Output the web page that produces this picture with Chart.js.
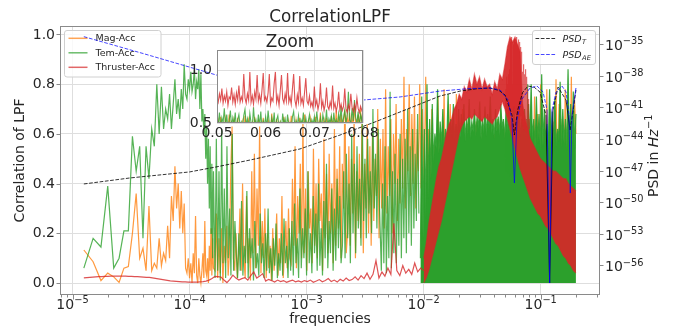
<!DOCTYPE html>
<html>
<head>
<meta charset="utf-8">
<script src="https://cdn.jsdelivr.net/npm/chart.js@4/dist/chart.umd.min.js"></script>
<style>
  html, body { margin: 0; padding: 0; background: #fff; }
  #wrap { position: relative; width: 681px; height: 329px; overflow: hidden; }
  #main { position: absolute; left: 0; top: 0; }
  #zoom { position: absolute; left: 190px; top: 30px; }
</style>
</head>
<body>
<div id="wrap">
  <canvas id="main" width="681" height="329"></canvas>
  <canvas id="zoom" width="200" height="112"></canvas>
</div>
<script>
// ---------------------------------------------------------------------------
// Data
// ---------------------------------------------------------------------------

// periodogram grid: bin k sits at k * binWidth (Hz), first plotted bin is k = 5
const binWidth = 2.5e-6;
const firstBin = 5;

// correlation, bins 5..64 (1.25e-5 .. 1.6e-4 Hz)
const magLow = [
  0.133,0.086,0.01,0.04,0.025,0.003,0.06,0.066,0.20,0.36,
  0.10,0.14,0.05,0.31,0.05,0.08,0.06,0.18,0.07,0.12,
  0.09,0.23,0.10,0.35,0.25,0.47,0.30,0.40,0.22,0.37,
  0.20,0.32,0.06,0.04,0.10,0.02,0.08,0.00,0.12,0.04,
  0.27,0.03,0.00,0.10,0.03,0.00,0.05,0.12,0.02,0.25,
  0.05,0.03,0.10,0.00,0.15,0.05,0.22,0.03,0.18,0.06
];
const temLow = [
  0.06,0.18,0.145,0.39,0.06,0.10,0.21,0.21,0.59,0.45,
  0.55,0.18,0.55,0.42,0.62,0.55,0.80,0.60,0.79,0.62,
  0.70,0.66,0.76,0.62,0.72,0.82,0.68,0.74,0.66,0.78,
  0.70,0.88,0.76,0.74,0.82,0.78,0.85,0.77,0.80,0.86,
  0.74,0.81,0.78,0.86,0.70,0.84,0.65,0.70,0.60,0.68,
  0.50,0.63,0.40,0.58,0.30,0.55,0.20,0.48,0.10,0.45
];

// Mag-Acc, 1.65e-4 .. 1.0e-2 Hz (log-spaced readings)
const magMidSpan = [1.65e-4, 1.0e-2];
const magMid = [
  0.05,0.28,0.02,0.18,0.04,0.22,0.00,0.15,0.08,0.23,0.03,0.12,0.45,0.63,0.10,0.05,0.20,
  0.02,0.12,0.30,0.05,0.40,0.10,0.02,0.35,0.08,0.18,0.01,0.45,0.12,0.52,0.06,0.38,0.15,0.63,0.04,0.25,
  0.10,0.30,0.02,0.20,0.06,0.15,0.01,0.22,0.05,0.12,0.28,0.03,0.18,0.08,0.35,0.02,0.14,0.25,0.06,0.30,0.10,
  0.08,0.42,0.15,0.55,0.06,0.35,0.20,0.48,0.10,0.65,0.12,0.38,0.05,0.45,0.22,0.30,0.08,0.54,0.15,0.40,
  0.10,0.50,0.25,0.36,0.05,0.58,0.18,0.44,0.12,0.52,0.20,0.40,0.08,0.62,0.15,0.46,0.22,0.55,0.10,0.48,
  0.30,0.78,0.12,
  0.20,0.55,0.15,0.50,0.28,0.66,0.10,0.45,0.25,0.52,0.18,0.67,0.12,0.48,0.30,0.64,0.20,0.55,0.15,0.60,
  0.25,0.50,0.35,0.70,0.18,0.58,0.30,0.62,0.22,0.78,0.28,0.55,0.35,0.66,0.20,0.60,0.40,0.72,0.25,0.58,
  0.32,0.66,0.38,0.83,0.30,0.62,0.45,0.80,0.35,0.68,0.40,0.75,0.30,0.62,0.45,0.80,0.38,0.70,0.50
];
// Mag-Acc, 1.0e-2 .. 0.2 Hz
const magHighSpan = [1.01e-2, 0.2];
const magHigh = [
  0.40,0.83,0.35,0.62,0.30,0.70,0.38,0.55,0.32,0.75,0.40,0.60,0.35,0.78,0.30,0.58,0.42,0.72,0.36,0.65,
  0.30,0.76,0.40,0.60,0.35,0.70,0.38,0.55,0.32,0.68,0.40,
  0.35,0.60,0.30,0.65,0.38,0.55,0.32,0.62,0.36,0.58,0.30,0.64,0.40,0.55,0.34,0.60,0.38,0.66,0.30,0.58,
  0.35,0.62,0.40,0.56,0.32,0.70,0.36,0.60,0.30,0.66,0.38,0.58,0.34,0.72,0.30,0.60,0.36,0.68,0.40,0.62,
  0.35,0.75,0.30,0.68,0.40,0.80,0.34,0.62,0.38,0.78,0.30,0.70,0.36,0.65,0.40,0.82,0.32,0.72,0.38,0.66,
  0.30,0.78,0.36,0.70,0.40,0.83,0.34,0.75,0.60
];

// Tem-Acc, 1.65e-4 .. 4.2e-3 Hz
const temMidSpan = [1.65e-4, 4.2e-3];
const temMid = [
  0.02,0.58,0.05,0.45,0.01,0.62,0.08,0.38,0.02,0.55,0.10,0.30,0.03,0.60,0.05,0.25,0.12,
  0.02,0.20,0.05,0.33,0.03,0.15,0.08,0.37,0.02,0.22,0.10,0.18,0.01,0.25,0.06,0.12,0.03,0.28,0.08,0.16,
  0.02,0.20,0.05,0.30,0.04,0.14,0.01,0.18,0.07,0.24,0.02,0.12,0.05,0.20,0.03,0.26,0.08,0.15,0.02,0.22,
  0.05,0.25,0.03,0.32,0.08,0.18,0.02,0.38,0.06,0.22,0.10,0.30,0.03,0.45,0.08,0.20,0.04,0.35,0.12,0.28,
  0.05,0.40,0.07,0.22,0.03,0.33,0.10,0.48,0.06,0.25,0.12,0.38,0.05,0.30,0.09,0.42,0.14,0.35,0.08,
  0.15,0.45,0.10,0.52,0.18,0.40,0.08,0.60,0.20,0.48,0.12,0.55,0.22,0.42,0.15,0.65,0.25,0.50,0.18,0.58,
  0.28,0.45,0.20,0.70,0.30,0.52,0.22,0.62,0.30
];
// Tem-Acc, 4.35e-3 .. 9.1e-3 Hz
const temBridgeSpan = [4.35e-3, 9.1e-3];
const temBridge = [
  0.05,0.40,0.08,0.55,0.04,0.35,0.10,0.77,0.06,0.45,0.12,0.52,0.08,0.42,0.15,0.60,
  0.10,0.50,0.18,0.58,0.12,0.70,0.20,0.55,0.15,0.62,0.22,0.52,0.25,0.68,0.28
];
// Tem-Acc, 9.38e-3 .. 0.2 Hz (dense band, filled down to zero)
const temHighSpan = [9.38e-3, 0.2];
const temHigh = [
  0.10,0.75,0.18,0.62,0.26,0.80,0.34,0.66,0.42,0.72,0.48,0.60,0.54,0.78,0.52,0.65,0.55,0.70,0.53,0.62,
  0.56,0.76,0.55,0.66,0.58,0.72,0.56,0.64,0.58,0.70,
  0.58,0.68,0.60,0.72,0.57,0.66,0.60,0.74,0.58,0.65,0.61,0.70,0.59,0.67,0.62,0.73,0.58,0.66,0.60,0.71,
  0.59,0.68,0.62,0.75,0.60,0.66,0.58,0.70,0.61,0.67,0.59,0.72,0.62,0.66,0.58,0.70,0.60,0.74,0.59,0.65,
  0.61,0.71,0.58,0.68,0.60,0.73,0.57,0.66,0.59,0.70,0.58,
  0.56,0.72,0.55,0.80,0.57,0.66,0.54,0.75,0.56,0.68,0.53,0.84,0.55,0.70,0.57,0.64,0.54,0.78,0.56,0.69,
  0.53,0.74,0.55,0.62,0.57,0.81,0.54,0.70,0.56,0.66,0.53,0.86,0.55,0.72,0.56,0.77,0.54,0.68
];

// Thruster-Acc, 1.25e-5 .. 1.0e-2 Hz
const thrLowSpan = [1.25e-5, 1.0e-2];
const thrLow = [
  0.021,0.022,0.023,0.024,0.025,0.026,0.026,0.027,0.027,0.028,0.028,0.028,0.028,0.028,0.028,0.027,
  0.027,0.026,0.026,0.025,0.024,0.023,0.023,
  0.021,0.019,0.017,0.015,0.013,0.011,0.009,0.008,0.007,0.006,0.005,0.005,0.004,0.004,0.004,0.004,
  0.005,0.006,0.008,0.012,
  0.018,0.027,0.026,0.024,0.012,0.002,0.015,0.032,0.020,0.012,
  0.018,0.022,0.012,0.030,0.045,0.020,0.028,0.038,0.008,0.015,0.010,0.004,0.012,0.006,0.010,0.003,
  0.008,0.012,0.005,0.009,
  0.004,0.010,0.006,0.012,0.003,0.008,0.014,0.005,0.010,0.018,0.006,0.012,0.004,0.015,0.008,0.020,0.010,
  0.014,0.025,0.012,0.030,0.018,0.040,0.015,0.035,0.090,0.020,0.045,0.028,0.060,0.035,0.240,0.050,
  0.030,0.070,0.040,0.055,0.035,0.080,0.045,0.060,0.050
];
// Thruster-Acc, 1.0e-2 .. 0.2 Hz: upper and lower edge of the dense band
const thrBandSpan = [1.0e-2, 0.2];
const thrHi = [
  0.10,0.16,0.24,0.30,0.36,0.42,0.47,0.50,0.55,0.60,
  0.64,0.66,0.70,0.72,0.76,0.74,0.79,0.77,0.82,0.78,
  0.84,0.80,0.83,0.78,0.82,0.79,0.80,0.76,0.81,0.78,
  0.84,0.82,0.88,0.95,0.99,0.97,0.99,0.96,0.93,0.72,
  0.66,0.62,0.58,0.56,0.54,0.52,0.50,0.49,0.48,0.47,
  0.46,0.45,0.45,0.44,0.43,0.42,0.42,0.40,0.39,0.38,
  0.37
];
const thrLo = [
  0.00,0.02,0.05,0.09,0.13,0.17,0.21,0.25,0.30,0.35,
  0.40,0.45,0.50,0.55,0.60,0.63,0.65,0.66,0.67,0.66,
  0.68,0.67,0.66,0.65,0.67,0.66,0.65,0.64,0.66,0.67,
  0.70,0.73,0.70,0.66,0.62,0.58,0.54,0.50,0.46,0.43,
  0.40,0.37,0.34,0.32,0.30,0.28,0.27,0.25,0.23,0.22,
  0.20,0.18,0.16,0.15,0.13,0.11,0.10,0.08,0.07,0.05,
  0.04
];

// 0.05 .. 0.08 Hz, evenly spaced readings (shown enlarged in the inset)
const zoomSpan = [0.05, 0.08];
const zoomMag = [
  0.45,0.52,0.40,0.56,0.43,0.49,0.38,0.54,0.46,0.41,0.58,0.44,0.50,0.39,0.53,0.47,0.42,0.55,0.40,0.48,
  0.44,0.51,0.37,0.57,0.45,0.41,0.53,0.46,0.39,0.50,0.43,0.56,0.40,0.47,0.52,0.38,0.49,0.44,0.55,0.41,
  0.46,0.39,0.53,0.48,0.42,0.59,0.44,0.50,0.37,0.54,0.45,0.40,0.51,0.47,0.43,0.56,0.39,0.49,0.45,0.52,
  0.41,0.57,0.44,0.48,0.38,0.53,0.46,0.42,0.55,0.40,0.50,0.44,0.58,0.41,0.47,0.52,0.39,0.54,0.45,0.49,
  0.43,0.56,0.40,0.51,0.46,0.60,0.42,0.48,0.53,0.39,0.55,0.44,0.50,0.41,0.57,0.46,0.52,0.43,0.62,0.47,
  0.54,0.40,0.58,0.45,0.51,0.63,0.44,0.56,0.48,0.60,0.42,0.55,0.47,0.65,0.50,0.44,0.58,0.46,0.61,0.52,
  0.55
];
const zoomTem = [
  0.52,0.48,0.60,0.45,0.55,0.50,0.64,0.47,0.58,0.44,0.52,0.62,0.46,0.55,0.49,0.60,0.43,0.53,0.58,0.47,
  0.51,0.45,0.57,0.63,0.48,0.54,0.44,0.59,0.50,0.46,0.65,0.49,0.53,0.45,0.58,0.47,0.61,0.44,0.52,0.48,
  0.56,0.46,0.62,0.50,0.45,0.55,0.48,0.60,0.43,0.53,0.57,0.46,0.51,0.44,0.59,0.49,0.54,0.45,0.58,0.47,
  0.50,0.44,0.56,0.61,0.46,0.52,0.48,0.57,0.45,0.53,0.49,0.60,0.44,0.55,0.47,0.51,0.58,0.46,0.53,0.49,
  0.56,0.45,0.61,0.50,0.47,0.55,0.44,0.58,0.52,0.48,0.63,0.46,0.54,0.50,0.57,0.45,0.60,0.49,0.53,0.47,
  0.59,0.51,0.66,0.48,0.55,0.62,0.50,0.57,0.80,0.53,0.49,0.64,0.52,0.72,0.55,0.50,0.61,0.47,0.58,0.52,
  0.63
];
const zoomThr = [
  0.74,0.70,0.78,0.72,0.83,0.69,0.76,0.71,0.80,0.67,0.75,0.73,0.84,0.70,0.77,0.68,0.79,0.72,0.86,0.70,0.75,
  0.71,0.97,0.74,0.69,0.78,0.72,0.99,0.70,0.76,0.68,0.80,0.73,0.96,0.71,0.77,0.69,0.82,0.98,0.72,0.75,
  0.70,0.79,0.97,0.68,0.74,0.71,0.88,0.99,0.70,0.76,0.67,0.81,0.96,0.73,0.69,0.78,0.71,0.98,0.70,0.75,
  0.68,0.83,0.97,0.72,0.66,0.77,0.70,0.95,0.69,0.74,0.67,0.80,0.93,0.71,0.68,0.76,
  0.66,0.70,0.64,0.85,0.67,0.72,0.63,0.69,0.88,0.65,0.71,0.62,0.68,0.84,0.66,0.63,0.70,0.65,0.86,0.64,
  0.69,0.61,0.67,0.80,0.63,0.68,0.62,0.66,0.83,0.64,0.60,0.67,0.63,0.78,0.65,0.61,0.68,0.62,0.74,0.64,
  0.60,0.66,0.62,0.65
];

// noise PSDs, stored as log10(PSD / Hz^-1)
const psdTFreq = [1.25e-5,3.1e-5,1.0e-4,1.68e-4,3.29e-4,8.78e-4,1.93e-3,3.84e-3,7.64e-3,1.38e-2,2.05e-2,
  2.8e-2,3.69e-2,4.4e-2,4.96e-2,5.68e-2,5.96e-2,6.36e-2,7.0e-2,7.79e-2,8.8e-2,9.86e-2,0.1109,0.1192,0.1274,
  0.1406,0.1646,0.178,0.1896,0.2];
const psdTExp = [-48.27,-47.70,-47.13,-46.66,-46.00,-44.95,-43.63,-42.39,-41.07,-39.93,-39.46,
  -39.25,-39.17,-39.40,-39.84,-41.73,-43.63,-41.26,-39.60,-38.98,-39.10,-39.55,-41.73,-57.66,-41.26,
  -39.08,-40.31,-43.15,-41.26,-39.36];
const psdAEFreq = [1.25e-5,4.16e-5,1.3e-4,3.29e-4,8.78e-4,3.03e-3,6.28e-3,1.38e-2,2.49e-2,3.69e-2,4.49e-2,
  5.26e-2,5.68e-2,5.96e-2,6.27e-2,6.82e-2,8.11e-2,9.3e-2,0.1047,0.1133,0.1192,0.1249,0.1351,0.152,0.1646,
  0.1745,0.1788,0.1852,0.2];
const psdAEExp = [-34.30,-35.95,-37.56,-38.89,-39.84,-40.31,-40.02,-39.46,-39.22,-39.17,-39.36,
  -40.31,-42.21,-48.18,-42.21,-40.31,-39.17,-38.98,-39.55,-41.26,-57.66,-41.26,-39.55,-38.98,-39.55,
  -41.73,-49.13,-41.73,-39.17];

// ticks
const freqTickExps = [-5, -4, -3, -2, -1];
const corrTicks = [0, 0.2, 0.4, 0.6, 0.8, 1.0];
const psdTickExps = [-56, -53, -50, -47, -44, -41, -38, -35];
const zoomFreqTicks = [0.05, 0.06, 0.07, 0.08];
const zoomCorrTicks = [0.5, 1.0];

// ---------------------------------------------------------------------------
// Helpers
// ---------------------------------------------------------------------------
const FONT = '"DejaVu Sans", sans-serif';
const INK = '#262626';
const FRAME = '#8a8a8a';
const GRID = '#dedede';
const RGB = { mag: '255,127,14', tem: '44,160,44', thr: '214,39,40' };
const rgba = (c, a) => `rgba(${c},${a})`;

const onBins = vals => vals.map((v, i) => ({ x: (firstBin + i) * binWidth, y: v }));
const onLogSpan = (span, vals) => vals.map((v, i) => ({
  x: span[0] * Math.pow(span[1] / span[0], i / (vals.length - 1)), y: v }));
const onLinSpan = (span, vals) => vals.map((v, i) => ({
  x: span[0] + (span[1] - span[0]) * i / (vals.length - 1), y: v }));
const pairs = (xs, ys) => xs.map((x, i) => ({ x, y: ys[i] }));
const supMinus = n => '\u2212' + Math.abs(n);

function roundRect(ctx, x, y, w, h, r) {
  ctx.beginPath();
  ctx.moveTo(x + r, y);
  ctx.arcTo(x + w, y, x + w, y + h, r);
  ctx.arcTo(x + w, y + h, x, y + h, r);
  ctx.arcTo(x, y + h, x, y, r);
  ctx.arcTo(x, y, x + w, y, r);
  ctx.closePath();
}

// "10" with a raised exponent
function drawPow10(ctx, exp, x, baseline, align) {
  ctx.font = `14px ${FONT}`;
  const w1 = ctx.measureText('10').width;
  ctx.font = `9.8px ${FONT}`;
  const sup = supMinus(exp);
  const w2 = ctx.measureText(sup).width;
  const x0 = align === 'center' ? x - (w1 + w2) / 2 : x;
  ctx.textAlign = 'left';
  ctx.textBaseline = 'alphabetic';
  ctx.font = `14px ${FONT}`;
  ctx.fillText('10', x0, baseline);
  ctx.font = `9.8px ${FONT}`;
  ctx.fillText(sup, x0 + w1, baseline - 5.8);
}

// ---------------------------------------------------------------------------
// Main chart
// ---------------------------------------------------------------------------
const line = { pointRadius: 0, tension: 0, borderWidth: 1.2, fill: false, xAxisID: 'x', yAxisID: 'y' };
const dashUnlessSteep = ctx => Math.abs(ctx.p1.y - ctx.p0.y) > 25 ? [] : [3.7, 1.6];

const corrLegend = [
  { label: 'Mag-Acc', color: rgba(RGB.mag, 0.7) },
  { label: 'Tem-Acc', color: rgba(RGB.tem, 0.7) },
  { label: 'Thruster-Acc', color: rgba(RGB.thr, 0.7) }
];

const mainSets = [
  { ...line, label: 'Mag-Acc', borderColor: rgba(RGB.mag, 0.8),
    data: [...onBins(magLow), ...onLogSpan(magMidSpan, magMid), ...onLogSpan(magHighSpan, magHigh)] },
  { ...line, borderColor: rgba(RGB.mag, 0.8), data: onLinSpan(zoomSpan, zoomMag) },
  { ...line, label: 'Tem-Acc', borderColor: rgba(RGB.tem, 0.8),
    data: [...onBins(temLow), ...onLogSpan(temMidSpan, temMid), ...onLogSpan(temBridgeSpan, temBridge)] },
  { ...line, borderColor: rgba(RGB.tem, 0.9), backgroundColor: rgba(RGB.tem, 1), fill: 'origin',
    data: onLogSpan(temHighSpan, temHigh) },
  { ...line, borderColor: rgba(RGB.tem, 0.8), data: onLinSpan(zoomSpan, zoomTem) },
  { ...line, label: 'Thruster-Acc', borderColor: rgba(RGB.thr, 0.8), data: onLogSpan(thrLowSpan, thrLow) },
  { ...line, borderColor: rgba(RGB.thr, 0.55), backgroundColor: rgba(RGB.thr, 0.92), fill: '+1',
    data: onLogSpan(thrBandSpan, thrHi) },
  { ...line, borderColor: rgba(RGB.thr, 0.55), data: onLogSpan(thrBandSpan, thrLo) },
  { ...line, borderColor: rgba(RGB.thr, 0.7), data: onLinSpan(zoomSpan, zoomThr), lastCorr: true },
  { ...line, yAxisID: 'y2', label: 'PSD_T', borderWidth: 1, borderColor: 'rgba(0,0,0,0.8)',
    borderDash: [3.7, 1.6], segment: { borderDash: dashUnlessSteep }, data: pairs(psdTFreq, psdTExp) },
  { ...line, yAxisID: 'y2', label: 'PSD_AE', borderWidth: 1, borderColor: 'rgba(0,0,255,0.72)',
    borderDash: [3.7, 1.6], segment: { borderDash: dashUnlessSteep }, data: pairs(psdAEFreq, psdAEExp) }
];
// first entry is drawn first (bottom)
mainSets.forEach((d, i) => { d.order = mainSets.length - i; });

function drawCorrLegend(ctx) {
  ctx.save();
  roundRect(ctx, 64.5, 30.5, 96.5, 46.5, 2.5);
  ctx.fillStyle = 'rgba(255,255,255,0.8)';
  ctx.fill();
  ctx.strokeStyle = '#d0d0d0';
  ctx.lineWidth = 1;
  ctx.stroke();
  const rows = [38.3, 52.8, 67.3];
  corrLegend.forEach((item, i) => {
    ctx.strokeStyle = item.color;
    ctx.lineWidth = 1.5;
    ctx.beginPath();
    ctx.moveTo(68.5, rows[i]);
    ctx.lineTo(87.5, rows[i]);
    ctx.stroke();
    ctx.fillStyle = INK;
    ctx.font = `9.5px ${FONT}`;
    ctx.textAlign = 'left';
    ctx.textBaseline = 'middle';
    ctx.fillText(item.label, 95.5, rows[i] + 0.5);
  });
  ctx.restore();
}

function drawPsdLegend(ctx) {
  ctx.save();
  roundRect(ctx, 532.5, 30.5, 63, 34, 2.5);
  ctx.fillStyle = 'rgba(255,255,255,0.8)';
  ctx.fill();
  ctx.strokeStyle = '#d0d0d0';
  ctx.lineWidth = 1;
  ctx.stroke();
  const items = [
    { sub: 'T', color: 'rgba(0,0,0,0.8)', y: 38.5 },
    { sub: 'AE', color: 'rgba(0,0,255,0.72)', y: 54.5 }
  ];
  items.forEach(it => {
    ctx.strokeStyle = it.color;
    ctx.lineWidth = 1;
    ctx.setLineDash([3.7, 1.6]);
    ctx.beginPath();
    ctx.moveTo(535.5, it.y);
    ctx.lineTo(555.5, it.y);
    ctx.stroke();
    ctx.setLineDash([]);
    ctx.fillStyle = INK;
    ctx.textAlign = 'left';
    ctx.textBaseline = 'alphabetic';
    ctx.font = `italic 9.5px ${FONT}`;
    ctx.fillText('PSD', 562.5, it.y + 3.5);
    const w = ctx.measureText('PSD').width;
    ctx.font = `italic 6.7px ${FONT}`;
    ctx.fillText(it.sub, 562.5 + w + 0.5, it.y + 5.5);
  });
  ctx.restore();
}

const mainDecor = {
  id: 'mainDecor',
  afterDatasetDraw(chart, args) {
    if (chart.data.datasets[args.index].lastCorr) drawCorrLegend(chart.ctx);
  },
  afterDraw(chart) {
    const ctx = chart.ctx;
    const a = chart.chartArea;
    const xs = chart.scales.x, yl = chart.scales.y, yr = chart.scales.y2;
    ctx.save();

    // frame
    ctx.strokeStyle = FRAME;
    ctx.lineWidth = 1;
    ctx.strokeRect(Math.round(a.left) + 0.5, Math.round(a.top) + 0.5,
      Math.round(a.right - a.left) - 1, Math.round(a.bottom - a.top) - 1);

    // x ticks (major + minor)
    ctx.beginPath();
    for (let e = -6; e <= 0; e++) {
      for (let m = 1; m < 10; m++) {
        const v = m * Math.pow(10, e);
        if (v < xs.min || v > xs.max) continue;
        const px = Math.round(xs.getPixelForValue(v)) + 0.5;
        const len = m === 1 ? 4.5 : 2.5;
        ctx.moveTo(px, a.bottom);
        ctx.lineTo(px, a.bottom + len);
      }
    }
    // left and right ticks
    corrTicks.forEach(v => {
      const py = Math.round(yl.getPixelForValue(v)) + 0.5;
      ctx.moveTo(a.left, py); ctx.lineTo(a.left - 3.5, py);
    });
    psdTickExps.forEach(e => {
      const py = Math.round(yr.getPixelForValue(e)) + 0.5;
      ctx.moveTo(a.right, py); ctx.lineTo(a.right + 3.5, py);
    });
    ctx.stroke();

    ctx.fillStyle = INK;
    // x labels
    freqTickExps.forEach(e => drawPow10(ctx, e, xs.getPixelForValue(Math.pow(10, e)), a.bottom + 13.5, 'center'));
    // right labels
    psdTickExps.forEach(e => drawPow10(ctx, e, a.right + 5, yr.getPixelForValue(e) + 6, 'left'));
    // left labels
    ctx.font = `14px ${FONT}`;
    ctx.textAlign = 'right';
    ctx.textBaseline = 'middle';
    corrTicks.forEach(v => ctx.fillText(v.toFixed(1), a.left - 5, yl.getPixelForValue(v) + 0.5));

    // title
    ctx.font = `16.8px ${FONT}`;
    ctx.textAlign = 'center';
    ctx.textBaseline = 'alphabetic';
    ctx.fillText('CorrelationLPF', (a.left + a.right) / 2, 22);

    // x axis title
    ctx.font = `14px ${FONT}`;
    ctx.fillText('frequencies', (a.left + a.right) / 2, 323);

    // left axis title
    ctx.save();
    ctx.translate(19, (a.top + a.bottom) / 2);
    ctx.rotate(-Math.PI / 2);
    ctx.textAlign = 'center';
    ctx.fillText('Correlation of LPF', 0, 5);
    ctx.restore();

    // right axis title: PSD in Hz^-1
    ctx.save();
    ctx.translate(652.5, 156);
    ctx.rotate(-Math.PI / 2);
    ctx.textAlign = 'left';
    ctx.font = `14px ${FONT}`;
    const t1 = 'PSD in ';
    const w1 = ctx.measureText(t1).width;
    ctx.font = `italic 14px ${FONT}`;
    const w2 = ctx.measureText('Hz').width;
    ctx.font = `9.8px ${FONT}`;
    const w3 = ctx.measureText('\u22121').width;
    let x0 = -(w1 + w2 + w3) / 2;
    ctx.font = `14px ${FONT}`;
    ctx.fillText(t1, x0, 5);
    ctx.font = `italic 14px ${FONT}`;
    ctx.fillText('Hz', x0 + w1, 5);
    ctx.font = `9.8px ${FONT}`;
    ctx.fillText('\u22121', x0 + w1 + w2 + 0.5, -1);
    ctx.restore();

    drawPsdLegend(ctx);
    ctx.restore();
  }
};

new Chart(document.getElementById('main'), {
  type: 'line',
  data: { datasets: mainSets },
  options: {
    responsive: false,
    devicePixelRatio: 1,
    animation: false,
    events: [],
    layout: { padding: { top: 26, left: 0, right: 0, bottom: 0 } },
    plugins: { legend: { display: false }, tooltip: { enabled: false }, title: { display: false } },
    scales: {
      x: {
        type: 'logarithmic', min: 7.82e-6, max: 0.321,
        afterBuildTicks: s => { s.ticks = freqTickExps.map(e => ({ value: Math.pow(10, e) })); },
        ticks: { display: false },
        grid: { color: GRID, lineWidth: 1, drawTicks: false },
        border: { display: false },
        afterFit: s => { s.height = 34; }
      },
      y: {
        type: 'linear', position: 'left', min: -0.048, max: 1.034,
        afterBuildTicks: s => { s.ticks = corrTicks.map(v => ({ value: v })); },
        ticks: { display: false },
        grid: { color: GRID, lineWidth: 1, drawTicks: false },
        border: { display: false },
        afterFit: s => { s.width = 60; }
      },
      y2: {
        type: 'linear', position: 'right', min: -58.80, max: -33.29,
        afterBuildTicks: s => { s.ticks = psdTickExps.map(v => ({ value: v })); },
        ticks: { display: false },
        grid: { display: false, drawTicks: false },
        border: { display: false },
        afterFit: s => { s.width = 81; }
      }
    }
  },
  plugins: [mainDecor]
});

// ---------------------------------------------------------------------------
// Inset: 0.05 .. 0.08 Hz on a linear axis
// ---------------------------------------------------------------------------
const insetLine = { pointRadius: 0, tension: 0, borderWidth: 1.1, fill: false };
const insetSets = [
  { ...insetLine, borderColor: rgba(RGB.mag, 0.8), data: onLinSpan(zoomSpan, zoomMag) },
  { ...insetLine, borderColor: rgba(RGB.tem, 0.8), data: onLinSpan(zoomSpan, zoomTem) },
  { ...insetLine, borderColor: rgba(RGB.thr, 0.8), data: onLinSpan(zoomSpan, zoomThr) }
];
insetSets.forEach((d, i) => { d.order = insetSets.length - i; });

const insetDecor = {
  id: 'insetDecor',
  beforeDraw(chart) {
    const a = chart.chartArea, ctx = chart.ctx;
    ctx.save();
    ctx.fillStyle = '#fff';
    ctx.fillRect(a.left, a.top, a.right - a.left, a.bottom - a.top);
    ctx.restore();
  },
  afterDraw(chart) {
    const a = chart.chartArea, ctx = chart.ctx;
    ctx.save();
    ctx.strokeStyle = FRAME;
    ctx.lineWidth = 1;
    ctx.strokeRect(Math.round(a.left) + 0.5, Math.round(a.top) + 0.5,
      Math.round(a.right - a.left) - 1, Math.round(a.bottom - a.top) - 1);
    ctx.fillStyle = INK;
    ctx.font = `16.8px ${FONT}`;
    ctx.textAlign = 'center';
    ctx.textBaseline = 'alphabetic';
    ctx.fillText('Zoom', (a.left + a.right) / 2, 16.5);
    ctx.restore();
  }
};

new Chart(document.getElementById('zoom'), {
  type: 'line',
  data: { datasets: insetSets },
  options: {
    responsive: false,
    devicePixelRatio: 1,
    animation: false,
    events: [],
    layout: { padding: { top: 20, left: 0, right: 27, bottom: 0 } },
    plugins: { legend: { display: false }, tooltip: { enabled: false } },
    scales: {
      x: {
        type: 'linear', min: zoomSpan[0], max: zoomSpan[1],
        afterBuildTicks: s => { s.ticks = zoomFreqTicks.map(v => ({ value: v })); },
        ticks: { callback: v => v.toFixed(2), font: { size: 14, family: FONT }, color: INK,
                 padding: 2, autoSkip: false, maxRotation: 0, minRotation: 0 },
        grid: { color: GRID, lineWidth: 1, drawTicks: false },
        border: { display: false },
        afterFit: s => { s.height = 19; }
      },
      y: {
        type: 'linear', min: 0.5, max: 1.2,
        afterBuildTicks: s => { s.ticks = zoomCorrTicks.map(v => ({ value: v })); },
        ticks: { callback: v => v.toFixed(1), font: { size: 14, family: FONT }, color: INK, padding: 5 },
        grid: { color: GRID, lineWidth: 1, drawTicks: false },
        border: { display: false },
        afterFit: s => { s.width = 27; }
      }
    }
  },
  plugins: [insetDecor]
});
</script>
</body>
</html>
